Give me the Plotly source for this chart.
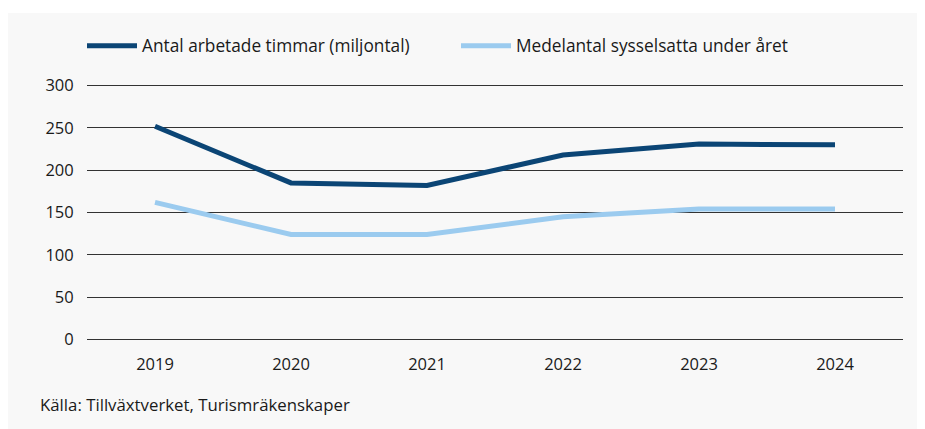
import plotly.graph_objects as go

years = ["2019", "2020", "2021", "2022", "2023", "2024"]
arbetade_timmar = [252, 185, 182, 218, 231, 230]
sysselsatta = [162, 124, 124, 145, 154, 154]
y_ticks = [0, 50, 100, 150, 200, 250, 300]

# the page body adds an 8px margin, so the figure is drawn 8px smaller
W, H = 917, 421
L, R, T, B = 79, 22, 76, 88
PW, PH = W - L - R, H - T - B
font = "Open Sans"


def px(x):
    return (x - L) / PW


def py(y):
    return (H - B - y) / PH


fig = go.Figure()

fig.add_trace(go.Scatter(
    x=years, y=arbetade_timmar, mode="lines",
    name="Antal arbetade timmar (miljontal)",
    line=dict(color="#0b4575", width=5)
))
fig.add_trace(go.Scatter(
    x=years, y=sysselsatta, mode="lines",
    name="Medelantal sysselsatta under året",
    line=dict(color="#9bcbef", width=5)
))

# light grey panel
fig.add_shape(type="rect", xref="paper", yref="paper",
              x0=px(0), x1=px(W + 5), y0=py(H + 5), y1=py(5),
              fillcolor="#f8f8f8", line_width=0, layer="below")

fig.add_annotation(text="Källa: Tillväxtverket, Turismräkenskaper",
                   xref="paper", yref="paper", x=px(30), y=py(396),
                   xanchor="left", yanchor="middle", showarrow=False,
                   font=dict(family=font, size=16.8, color="#1a1a1a"))

fig.update_layout(
    width=W, height=H,
    margin=dict(l=L, r=R, t=T, b=B),
    paper_bgcolor="white",
    plot_bgcolor="rgba(0,0,0,0)",
    font=dict(family=font, size=16.5, color="#1a1a1a"),
    showlegend=True,
    legend=dict(orientation="h", x=px(74), y=py(38), xanchor="left", yanchor="middle",
                entrywidth=309, entrywidthmode="pixels", itemwidth=50,
                bgcolor="rgba(0,0,0,0)", font=dict(family=font, size=17.3, color="#1a1a1a")),
    xaxis=dict(type="category", range=[-0.5, 5.5], showgrid=False, showline=False,
               zeroline=False, ticks="outside", ticklen=8, tickcolor="rgba(0,0,0,0)"),
    yaxis=dict(range=[-2, 302], tickvals=y_ticks, showgrid=True, gridcolor="#333333",
               gridwidth=1, zeroline=False, showline=False,
               ticks="outside", ticklen=9, tickcolor="rgba(0,0,0,0)"),
)

fig.write_html("out.html")
